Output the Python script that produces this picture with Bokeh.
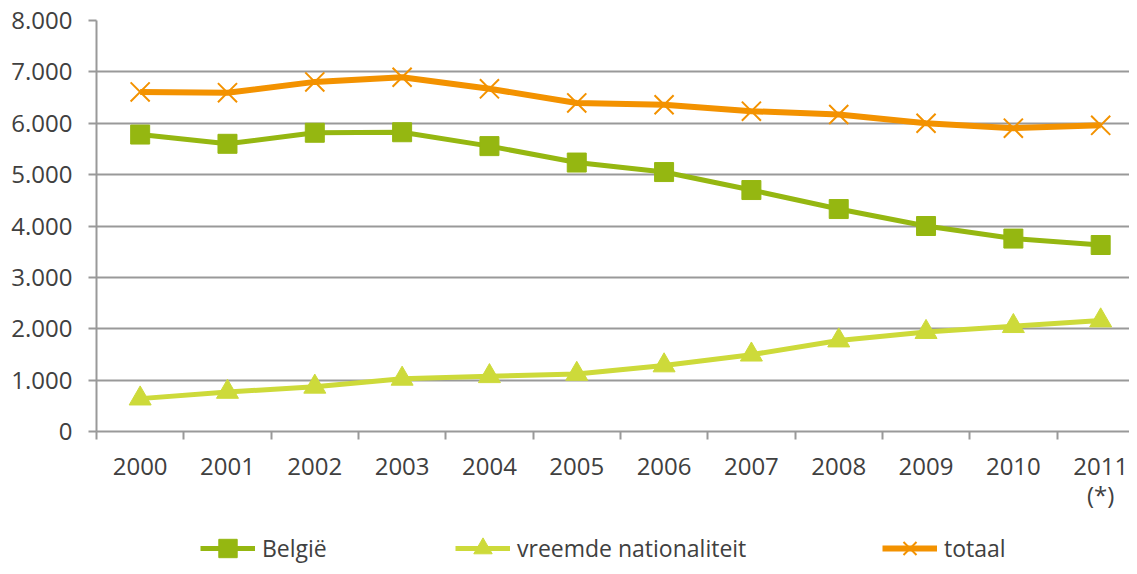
from bokeh.plotting import figure
from bokeh.layouts import column
from bokeh.models import Range1d, FixedTicker, Legend, LegendItem, ColumnDataSource
from bokeh.embed import file_html
from bokeh.resources import INLINE

years = ["2000", "2001", "2002", "2003", "2004", "2005", "2006", "2007",
         "2008", "2009", "2010", "2011\n(*)"]
belgie = [5780, 5600, 5815, 5825, 5555, 5235, 5050, 4700, 4330, 4000, 3755, 3630]
vreemde = [640, 770, 870, 1025, 1075, 1120, 1285, 1495, 1770, 1935, 2050, 2160]
totaal = [6610, 6595, 6805, 6895, 6670, 6395, 6360, 6235, 6170, 6000, 5905, 5960]
y_ticks = [0, 1000, 2000, 3000, 4000, 5000, 6000, 7000, 8000]
series_names = ["België", "vreemde nationaliteit", "totaal"]

FONT = "Open Sans"
TXT = "#404040"
GRID = "#999999"
C_BE = "#95B711"
C_VR = "#CDDA3A"
C_TO = "#F39200"

xs = list(range(len(years)))
src = ColumnDataSource(dict(x=xs, belgie=belgie, vreemde=vreemde, totaal=totaal))

p = figure(width=1129, height=514, output_backend="svg", toolbar_location=None,
           x_range=Range1d(-0.5, 11.33), y_range=Range1d(0, 8000),
           min_border_left=96, min_border_right=0, min_border_top=20,
           min_border_bottom=81)
p.outline_line_color = None
p.background_fill_color = "white"
p.border_fill_color = "white"

# y axis
p.yaxis.ticker = FixedTicker(ticks=y_ticks, minor_ticks=[])
p.yaxis.major_label_overrides = {v: f"{v:,}".replace(",", ".") for v in y_ticks}
p.yaxis.axis_line_color = GRID
p.yaxis.axis_line_width = 2
p.yaxis.major_tick_line_color = GRID
p.yaxis.major_tick_line_width = 2
p.yaxis.major_tick_out = 8
p.yaxis.major_tick_in = 0
p.yaxis.minor_tick_line_color = None
p.yaxis.major_label_standoff = 16
p.yaxis.major_label_text_font = FONT
p.yaxis.major_label_text_font_size = "24px"
p.yaxis.major_label_text_color = TXT

# x axis
p.xaxis.ticker = FixedTicker(ticks=xs, minor_ticks=[i - 0.5 for i in range(len(years) + 1)])
p.xaxis.major_label_overrides = {i: lab for i, lab in zip(xs, years)}
p.xaxis.axis_line_color = GRID
p.xaxis.axis_line_width = 2
p.xaxis.major_tick_line_color = None
p.xaxis.major_tick_out = 0
p.xaxis.major_tick_in = 0
p.xaxis.minor_tick_line_color = GRID
p.xaxis.minor_tick_line_width = 2
p.xaxis.minor_tick_out = 8
p.xaxis.minor_tick_in = 0
p.xaxis.major_label_standoff = 9
p.xaxis.major_label_text_font = FONT
p.xaxis.major_label_text_font_size = "24px"
p.xaxis.major_label_text_color = TXT
p.xaxis.major_label_text_line_height = 0.9

p.xgrid.grid_line_color = None
p.ygrid.ticker = FixedTicker(ticks=y_ticks)
p.ygrid.grid_line_color = GRID
p.ygrid.grid_line_width = 2

cols = ["belgie", "vreemde", "totaal"]
line_styles = [dict(line_color=C_BE, line_width=5),
               dict(line_color=C_VR, line_width=5),
               dict(line_color=C_TO, line_width=6)]
marker_styles = [dict(marker="square", size=19, fill_color=C_BE, line_color=C_BE),
                 dict(marker="triangle", size=22, fill_color=C_VR, line_color=C_VR),
                 dict(marker="x", size=27, line_color=C_TO, line_width=2)]

for col, ls, ms in zip(cols, line_styles, marker_styles):
    p.line("x", col, source=src, **ls)
    p.scatter("x", col, source=src, **ms)

# legend strip (same series, drawn outside its visible range; only the legend shows)
leg = figure(width=1129, height=52, output_backend="svg", toolbar_location=None,
             x_range=Range1d(-0.5, 11.33), y_range=Range1d(-2, -1),
             min_border_left=96, min_border_right=0, min_border_top=0,
             min_border_bottom=0, x_axis_type=None, y_axis_type=None)
leg.outline_line_color = None
leg.xgrid.grid_line_color = None
leg.ygrid.grid_line_color = None
leg.background_fill_color = "white"
leg.border_fill_color = "white"

positions = [104, 359, 786]
for name, col, ls, ms, xpos in zip(series_names, cols, line_styles, marker_styles, positions):
    r1 = leg.line("x", col, source=src, **ls)
    r2 = leg.scatter("x", col, source=src, **ms)
    lg = Legend(items=[LegendItem(label=name, renderers=[r1, r2])],
                location=(xpos, -5), orientation="horizontal",
                glyph_width=55, glyph_height=46, label_standoff=7,
                padding=0, margin=0, border_line_color=None,
                background_fill_alpha=0,
                label_text_font=FONT, label_text_font_size="23px",
                label_text_color=TXT)
    leg.add_layout(lg, "center")

layout = column(p, leg, spacing=0)
open("out.html", "w").write(file_html(layout, INLINE))
